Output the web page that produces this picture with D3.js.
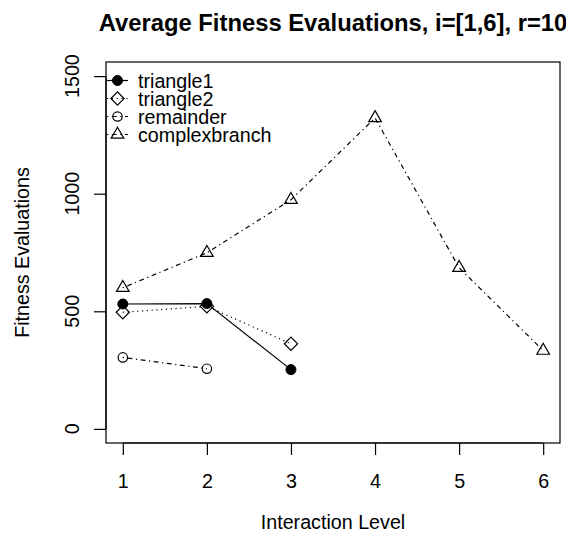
<!DOCTYPE html>
<html>
<head>
<meta charset="utf-8">
<script src="https://cdn.jsdelivr.net/npm/d3@7"></script>
<style>
  html, body { margin: 0; padding: 0; background: #fff; }
  svg { display: block; font-family: "Liberation Sans", Arial, Helvetica, sans-serif; }
</style>
</head>
<body>
<svg id="chart" width="566" height="542"></svg>
<script>
// Interaction levels on the x axis
const levels = [1, 2, 3, 4, 5, 6];

// Average fitness evaluations per benchmark (null = not measured)
const triangle1     = [531, 533, 252, null, null, null];
const triangle2     = [496, 521, 362, null, null, null];
const remainder     = [304, 256, null, null, null, null];
const complexbranch = [600, 749, 974, 1322, 685, 333];

const seriesNames = ["triangle1", "triangle2", "remainder", "complexbranch"];
const seriesValues = [triangle1, triangle2, remainder, complexbranch];
const seriesSymbols = ["filledCircle", "diamond", "circle", "triangle"];
const seriesDash = [null, "1.2,3.6", "1.2,3.6,4.8,3.6", "1.2,3.6,4.8,3.6"];

const xTicks = [1, 2, 3, 4, 5, 6];
const yTicks = [0, 500, 1000, 1500];

const svg = d3.select("#chart");
const plot = { left: 106, right: 560, top: 62, bottom: 443 };

// R-style 4% padding around the data range
const x = d3.scaleLinear().domain([0.8, 6.2]).range([plot.left, plot.right]);
const y = d3.scaleLinear().domain([-60, 1560]).range([plot.bottom, plot.top]);

const fontSize = 19.7;
const R = 4.7;

// plot frame
svg.append("rect")
  .attr("x", plot.left).attr("y", plot.top)
  .attr("width", plot.right - plot.left).attr("height", plot.bottom - plot.top)
  .attr("fill", "none").attr("stroke", "#000").attr("stroke-width", 1.2);

// x axis
const xAxis = d3.axisBottom(x).tickValues(xTicks).tickSize(12).tickPadding(19)
  .tickFormat(d3.format("d"));
const gx = svg.append("g").attr("transform", `translate(0,${plot.bottom})`).call(xAxis);
gx.select(".domain").attr("d", `M${x(1)},0H${x(6)}`).attr("stroke-width", 1.2);
gx.selectAll(".tick line").attr("stroke-width", 1.2);
gx.selectAll(".tick text").attr("font-size", fontSize).attr("font-family", null).attr("fill", "#000");

// y axis: ticks from the axis generator, rotated labels placed beside it
const yAxis = d3.axisLeft(y).tickValues(yTicks).tickSize(12).tickFormat("");
const gy = svg.append("g").attr("transform", `translate(${plot.left},0)`).call(yAxis);
gy.select(".domain").attr("d", `M0,${y(0)}V${y(1500)}`).attr("stroke-width", 1.2);
gy.selectAll(".tick line").attr("stroke-width", 1.2);
svg.selectAll(".domain").attr("stroke", "#000");

svg.append("g").attr("class", "y-labels")
  .selectAll("text").data(yTicks).join("text")
  .attr("transform", d => `translate(72,${y(d)}) rotate(-90)`)
  .attr("text-anchor", "middle").attr("dominant-baseline", "central")
  .attr("font-size", fontSize).attr("fill", "#000")
  .text(d3.format("d"));

// titles
svg.append("text").attr("x", (plot.left + plot.right) / 2).attr("y", 22)
  .attr("text-anchor", "middle").attr("dominant-baseline", "central")
  .attr("font-size", 23.8).attr("font-weight", "bold")
  .text("Average Fitness Evaluations, i=[1,6], r=10");
svg.append("text").attr("x", (plot.left + plot.right) / 2).attr("y", 522)
  .attr("text-anchor", "middle").attr("dominant-baseline", "central")
  .attr("font-size", fontSize).text("Interaction Level");
svg.append("text").attr("transform", `translate(22,${(y(0) + y(1500)) / 2}) rotate(-90)`)
  .attr("text-anchor", "middle").attr("dominant-baseline", "central")
  .attr("font-size", fontSize).text("Fitness Evaluations");

// marker drawing (R pch 19, 5, 1, 2)
function drawSymbol(g, kind, cx, cy) {
  if (kind === "filledCircle") {
    g.append("circle").attr("cx", cx).attr("cy", cy).attr("r", R + 0.3)
      .attr("fill", "#000").attr("stroke", "#000").attr("stroke-width", 1);
  } else if (kind === "circle") {
    g.append("circle").attr("cx", cx).attr("cy", cy).attr("r", R)
      .attr("fill", "none").attr("stroke", "#000").attr("stroke-width", 1.2);
  } else if (kind === "diamond") {
    const d = R * Math.SQRT2;
    g.append("path")
      .attr("d", `M${cx},${cy - d}L${cx + d},${cy}L${cx},${cy + d}L${cx - d},${cy}Z`)
      .attr("fill", "none").attr("stroke", "#000").attr("stroke-width", 1.2);
  } else if (kind === "triangle") {
    const r = 1.5551 * R, xc = 1.3468 * R, yc = 0.7776 * R;
    g.append("path")
      .attr("d", `M${cx},${cy - r}L${cx + xc},${cy + yc}L${cx - xc},${cy + yc}Z`)
      .attr("fill", "none").attr("stroke", "#000").attr("stroke-width", 1.2);
  }
}

const line = d3.line()
  .defined(d => d.v != null)
  .x(d => x(d.x)).y(d => y(d.v));

seriesValues.forEach((vals, i) => {
  const pts = levels.map((lv, j) => ({ x: lv, v: vals[j] }));
  const g = svg.append("g").attr("class", "series-" + seriesNames[i]);
  g.append("path").datum(pts).attr("d", line)
    .attr("fill", "none").attr("stroke", "#000").attr("stroke-width", 1.2)
    .attr("stroke-dasharray", seriesDash[i]);
  pts.filter(d => d.v != null).forEach(d => drawSymbol(g, seriesSymbols[i], x(d.x), y(d.v)));
});

// legend (top-left, no box)
const legend = svg.append("g").attr("class", "legend");
seriesNames.forEach((name, i) => {
  const ly = 80.5 + i * 18;
  legend.append("line").attr("x1", 107).attr("x2", 128).attr("y1", ly).attr("y2", ly)
    .attr("stroke", "#000").attr("stroke-width", 1.2)
    .attr("stroke-dasharray", seriesDash[i]);
  drawSymbol(legend, seriesSymbols[i], 117.5, ly);
  legend.append("text").attr("x", 138).attr("y", ly)
    .attr("dominant-baseline", "central").attr("font-size", fontSize).text(name);
});
</script>
</body>
</html>
